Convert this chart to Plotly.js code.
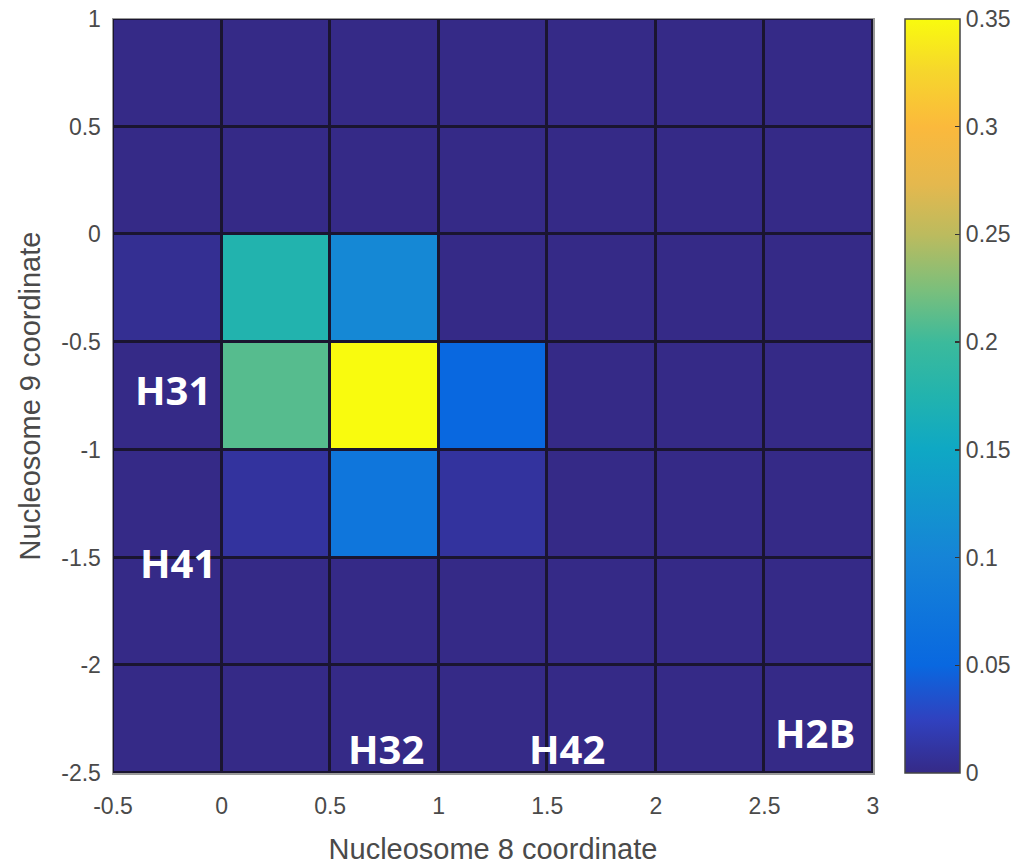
<!DOCTYPE html>
<html>
<head>
<meta charset="utf-8">
<script src="https://cdn.plot.ly/plotly-3.0.1.min.js"></script>
<style>html,body{margin:0;padding:0;background:#fff;}#chart{width:1022px;height:868px;}</style>
</head>
<body>
<div id="chart"></div>
<script>
// Cell centers (Nucleosome 8 coordinate, Nucleosome 9 coordinate)
const xCenters = [-0.25, 0.25, 0.75, 1.25, 1.75, 2.25, 2.75];
const yCenters = [0.75, 0.25, -0.25, -0.75, -1.25, -1.75, -2.25];

// Values, one row per y center (top to bottom)
const row075  = [0, 0, 0, 0, 0, 0, 0];
const row025  = [0, 0, 0, 0, 0, 0, 0];
const rowM025 = [0.005, 0.175, 0.105, 0, 0, 0, 0];
const rowM075 = [0, 0.21, 0.35, 0.05, 0, 0, 0];
const rowM125 = [0, 0.01, 0.075, 0.01, 0, 0, 0];
const rowM175 = [0, 0, 0, 0, 0, 0, 0];
const rowM225 = [0, 0, 0, 0, 0, 0, 0];

const xTicks = [-0.5, 0, 0.5, 1, 1.5, 2, 2.5, 3];
const yTicks = [-2.5, -2, -1.5, -1, -0.5, 0, 0.5, 1];
const cbTicks = [0, 0.05, 0.1, 0.15, 0.2, 0.25, 0.3, 0.35];

const labelText = ['H31', 'H41', 'H32', 'H42', 'H2B'];
const labelX = [-0.224, -0.2, 0.757, 1.591, 2.733];
const labelY = [-0.722, -1.521, -2.384, -2.384, -2.314];

const parula = [
  [0.00, '#352a87'],
  [0.07, '#3041bf'],
  [0.143, '#0968e0'],
  [0.286, '#1684d7'],
  [0.43, '#0fa8c4'],
  [0.50, '#22b3ae'],
  [0.57, '#3bba9c'],
  [0.64, '#7abf7c'],
  [0.714, '#bcbb5e'],
  [0.78, '#e4b84e'],
  [0.857, '#fbb93c'],
  [0.93, '#f6d62c'],
  [1.00, '#f9fb0e']
];

const z = [row075, row025, rowM025, rowM075, rowM125, rowM175, rowM225];

const tickFont = {family: 'Liberation Sans, Arial, sans-serif', size: 23, color: '#4a4a4a'};
const titleFont = {family: 'Liberation Sans, Arial, sans-serif', size: 29, color: '#4a4a4a'};

const trace = {
  type: 'heatmap',
  x: xCenters,
  y: yCenters,
  z: z,
  zmin: 0,
  zmax: 0.35,
  colorscale: parula,
  xgap: 3,
  ygap: 3,
  hoverinfo: 'skip',
  colorbar: {
    x: 1.042, xanchor: 'left', xpad: 0,
    y: 0.5, yanchor: 'middle', len: 1, lenmode: 'fraction', ypad: 0,
    thickness: 55, thicknessmode: 'pixels',
    outlinecolor: '#444', outlinewidth: 1.5,
    tickvals: cbTicks,
    ticktext: cbTicks.map(v => String(v)),
    ticks: 'inside', ticklen: 5, tickcolor: '#333', tickwidth: 1.5,
    tickfont: tickFont
  }
};

const annotations = labelText.map((t, i) => ({
  x: labelX[i], y: labelY[i], xref: 'x', yref: 'y',
  text: '<b>' + t + '</b>', showarrow: false,
  font: {family: 'Open Sans, Noto Sans, sans-serif', size: 40, color: '#ffffff'},
  xanchor: 'center', yanchor: 'middle'
}));

const layout = {
  width: 1022, height: 868,
  margin: {l: 113, r: 149, t: 19, b: 95, autoexpand: false},
  paper_bgcolor: '#ffffff',
  plot_bgcolor: '#1a1530',
  showlegend: false,
  xaxis: {
    range: [-0.5, 3], tickvals: xTicks, ticktext: xTicks.map(v => String(v)),
    showgrid: false, zeroline: false, showline: true, mirror: true,
    linecolor: '#999', linewidth: 1.5, ticks: '', tickfont: tickFont,
    ticklabelstandoff: 12,
    title: {text: 'Nucleosome 8 coordinate', font: titleFont, standoff: 20}
  },
  yaxis: {
    range: [-2.5, 1], tickvals: yTicks, ticktext: yTicks.map(v => String(v)),
    showgrid: false, zeroline: false, showline: true, mirror: true,
    linecolor: '#999', linewidth: 1.5, ticks: '', tickfont: tickFont,
    ticklabelstandoff: 6,
    title: {text: 'Nucleosome 9 coordinate', font: titleFont, standoff: 12}
  },
  annotations: annotations
};

Plotly.newPlot('chart', [trace], layout, {displayModeBar: false, staticPlot: true});
</script>
</body>
</html>
